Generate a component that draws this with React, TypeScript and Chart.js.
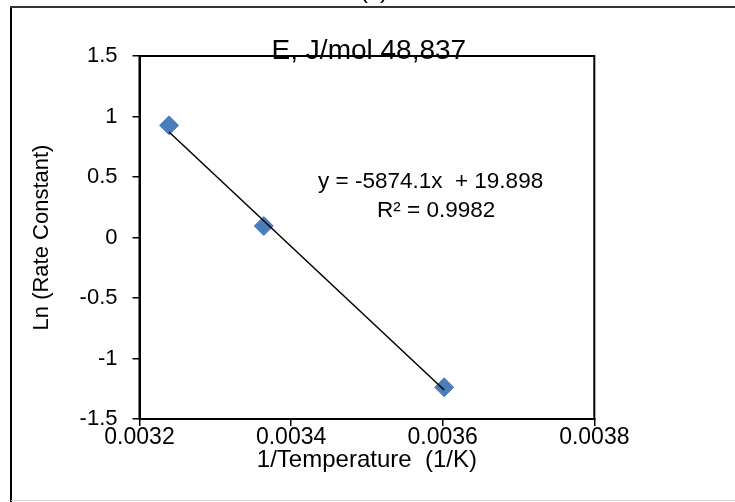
import { useEffect, useRef } from "react";
import { Chart, registerables } from "chart.js";

Chart.register(...registerables);

// ---- data ----
const invTemperature = [0.003239, 0.003364, 0.003602];
const lnRateConstant = [0.927, 0.095, -1.238];
const trendSlope = -5874.1;
const trendIntercept = 19.898;
const rSquaredText = "R² = 0.9982";
const equationText = "y = -5874.1x  + 19.898";
const chartTitle = "E, J/mol 48,837";
const panelLabel = "(c)";
const xTitle = "1/Temperature  (1/K)";
const yTitle = "Ln (Rate Constant)";
const xTickValues = [0.0032, 0.0034, 0.0036, 0.0038];
const yTickValues = [-1.5, -1, -0.5, 0, 0.5, 1, 1.5];

const FONT = '"Liberation Sans", Arial, sans-serif';

export default function App() {
  const ref = useRef<HTMLCanvasElement | null>(null);

  useEffect(() => {
    if (!ref.current) return;
    const xMinData = Math.min(...invTemperature);
    const xMaxData = Math.max(...invTemperature);
    const trend = [xMinData, xMaxData].map((x) => ({ x, y: trendSlope * x + trendIntercept }));
    const points = invTemperature.map((x, i) => ({ x, y: lnRateConstant[i] }));

    const decor = {
      id: "decor",
      beforeDraw(chart: any) {
        const { ctx, width, height } = chart;
        ctx.save();
        ctx.fillStyle = "#fff";
        ctx.fillRect(0, 0, width, height);
        ctx.restore();
      },
      afterDraw(chart: any) {
        const { ctx, chartArea } = chart;
        const { left, top, right, bottom } = chartArea;
        ctx.save();
        // plot box
        ctx.strokeStyle = "#000";
        ctx.lineWidth = 2;
        ctx.strokeRect(left, top, right - left, bottom - top);
        // outer frame
        ctx.strokeStyle = "#000";
        ctx.lineWidth = 2;
        ctx.beginPath();
        ctx.moveTo(11, 502);
        ctx.lineTo(11, 7);
        ctx.stroke();
        ctx.strokeStyle = "#333";
        ctx.beginPath();
        ctx.moveTo(10, 7);
        ctx.lineTo(735, 7);
        ctx.stroke();
        ctx.strokeStyle = "#d8d8d8";
        ctx.lineWidth = 1;
        ctx.beginPath();
        ctx.moveTo(11, 500.5);
        ctx.lineTo(735, 500.5);
        ctx.stroke();
        // panel label (mostly cut off at the top)
        ctx.fillStyle = "#000";
        ctx.textAlign = "center";
        ctx.textBaseline = "alphabetic";
        ctx.font = `24px ${FONT}`;
        ctx.fillText(panelLabel, 374, -2);
        // title
        ctx.font = `28px ${FONT}`;
        ctx.fillText(chartTitle, (left + right) / 2 + 2, top + 3);
        // trendline label
        ctx.font = `22.5px ${FONT}`;
        ctx.textAlign = "left";
        ctx.fillText(equationText, 318, 188);
        ctx.fillText(rSquaredText, 377, 217);
        ctx.restore();
      },
    };

    const chart = new Chart(ref.current, {
      type: "scatter",
      data: {
        datasets: [
          {
            type: "line",
            label: "Trend",
            data: trend,
            borderColor: "#000",
            borderWidth: 1.5,
            pointRadius: 0,
            fill: false,
            order: 0,
          } as any,
          {
            label: "Ln k",
            data: points,
            pointStyle: "rectRot",
            pointRadius: 9.5,
            pointBackgroundColor: "#4a7ebb",
            pointBorderColor: "#4a7ebb",
            pointBorderWidth: 1,
            order: 1,
          },
        ],
      },
      options: {
        responsive: false,
        animation: false,
        events: [],
        layout: { padding: { left: 0, top: 56, right: 140.7, bottom: 0 } },
        plugins: {
          legend: { display: false },
          tooltip: { enabled: false },
          title: { display: false },
        },
        scales: {
          x: {
            type: "linear",
            min: xTickValues[0],
            max: xTickValues[xTickValues.length - 1],
            afterFit(scale: any) {
              scale.height = 83;
            },
            afterBuildTicks(scale: any) {
              scale.ticks = xTickValues.map((v) => ({ value: v }));
            },
            ticks: {
              color: "#000",
              font: { family: FONT, size: 23, lineHeight: 1 },
              padding: 0,
              callback: (v: any) => Number(v).toFixed(4),
            },
            grid: {
              drawOnChartArea: false,
              drawTicks: true,
              tickLength: 7,
              color: "#000",
              lineWidth: 1.5,
            },
            border: { display: true, color: "#000", width: 2 },
            title: {
              display: true,
              text: xTitle,
              color: "#000",
              font: { family: FONT, size: 24, lineHeight: 1.2 },
              padding: { top: 0, bottom: 27.5 },
            },
          },
          y: {
            type: "linear",
            min: yTickValues[0],
            max: yTickValues[yTickValues.length - 1],
            afterFit(scale: any) {
              scale.width = 139.5;
            },
            afterBuildTicks(scale: any) {
              scale.ticks = yTickValues.map((v) => ({ value: v }));
            },
            ticks: {
              color: "#000",
              font: { family: FONT, size: 22, lineHeight: 1 },
              padding: 15,
              callback: (v: any) => String(Math.round(Number(v) * 10) / 10),
            },
            grid: {
              drawOnChartArea: false,
              drawTicks: true,
              tickLength: 7,
              color: "#000",
              lineWidth: 1.5,
            },
            border: { display: true, color: "#000", width: 2 },
            title: {
              display: true,
              text: yTitle,
              color: "#000",
              font: { family: FONT, size: 22, lineHeight: 1.2 },
              padding: { top: 29, bottom: 0 },
            },
          },
        },
      },
      plugins: [decor],
    });
    return () => chart.destroy();
  }, []);

  return (
    <div style={{ position: "fixed", left: 0, top: 0, width: 735, height: 502, background: "#fff" }}>
      <canvas ref={ref} width={735} height={502} style={{ display: "block", width: 735, height: 502 }} />
    </div>
  );
}
